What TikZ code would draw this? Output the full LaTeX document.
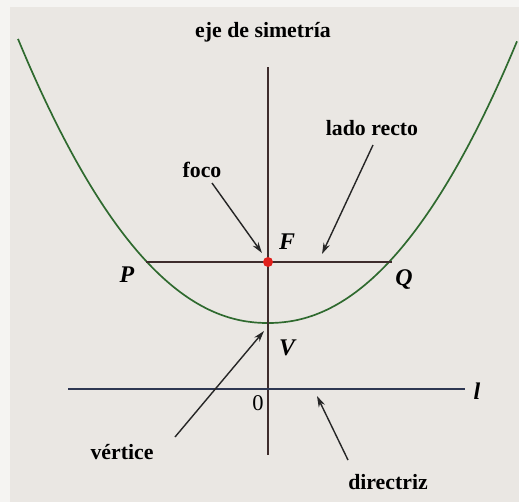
\documentclass[tikz,border=0pt]{standalone}
\usepackage{fontspec}
\setmainfont{Liberation Serif}
\usetikzlibrary{arrows.meta}
\definecolor{bg}{HTML}{EAE7E3}
\definecolor{bgl}{HTML}{F5F4F2}
\definecolor{parab}{HTML}{2F6A2F}
\definecolor{axisc}{HTML}{3E2C2C}
\definecolor{dirc}{HTML}{2E3752}
\definecolor{focr}{HTML}{E0201C}
\begin{document}
\begin{tikzpicture}[x=0.025cm,y=-0.025cm,
  lbl/.style={font=\fontsize{15.5}{18}\selectfont\bfseries, inner sep=0pt},
  letlbl/.style={font=\fontsize{17}{19}\selectfont\bfseries\itshape, inner sep=0pt},
  arr/.style={-{Stealth[length=2.8mm,width=1.7mm]}, line width=1pt, draw=black!85},
  thinline/.style={axisc, line width=0.95pt}]
\fill[bgl] (0,0) rectangle (519,502);
\fill[bg] (10,7) rectangle (519,502);
\useasboundingbox (0,0) rectangle (519,502);
% parabola
\draw[parab, line width=1.2pt] plot[domain=-250:249, samples=140, smooth]
  ({268+\x},{323-61*((abs(\x)+0.01)/121)^2.12});
% axis, directrix, latus rectum
\coordinate (axT) at (268,67);
\coordinate (axB) at (268,455);
\coordinate (dL) at (68,389);
\coordinate (dR) at (465,389);
\coordinate (P0) at (146,262);
\coordinate (Q0) at (392,262);
\draw[thinline] (axT) -- (axB);
\draw[dirc, line width=1.05pt] (dL) -- (dR);
\draw[thinline] (P0) -- (Q0);
\node[circle, fill=focr, minimum size=2.5mm, inner sep=0pt] (foc) at (268,262) {};
% labels
\node[lbl] (eje) at (263,32) {eje de simetría};
\node[lbl] (lado) at (372,128) {lado recto};
\node[lbl] (foco) at (202,170) {foco};
\node[lbl] (vert) at (122,452) {vértice};
\node[lbl] (dirx) at (388,482) {directriz};
\node[letlbl] (Fl) at (287,242) {F};
\node[letlbl] (Pl) at (127,275) {P};
\node[letlbl] (Ql) at (404,280) {Q};
\node[letlbl] (Vl) at (287,348) {V};
\node[letlbl] (ll) at (477,391) {l};
\node[font=\fontsize{16}{18}\selectfont, inner sep=0pt] (zero) at (258,403) {0};
% arrows
\coordinate (fs) at (212,183);
\coordinate (ft) at (262,253);
\coordinate (ls) at (373,145);
\coordinate (lt) at (322,254);
\coordinate (vs) at (175,437);
\coordinate (vt) at (264,331);
\coordinate (ds) at (348,460);
\coordinate (dt) at (317,396);
\draw[arr] (fs) -- (ft);
\draw[arr] (ls) -- (lt);
\draw[arr] (vs) -- (vt);
\draw[arr] (ds) -- (dt);
\end{tikzpicture}
\end{document}
